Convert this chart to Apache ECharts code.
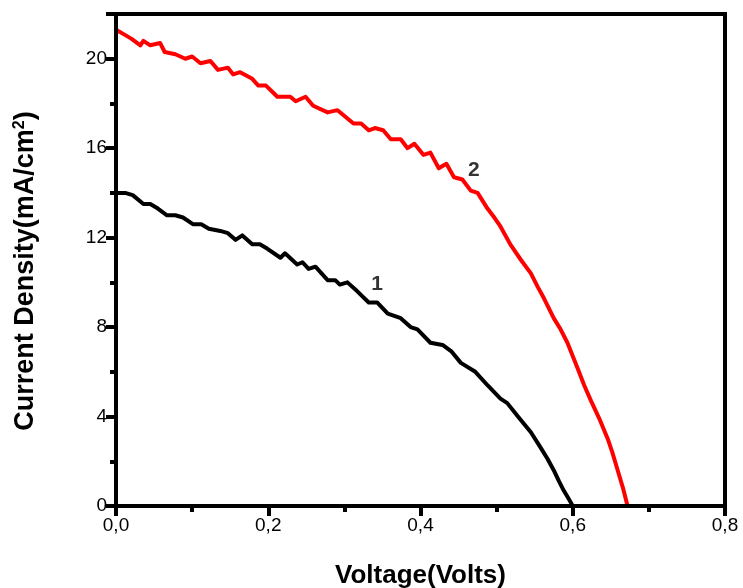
<!DOCTYPE html>
<html>
<head>
<meta charset="utf-8">
<script src="https://cdn.jsdelivr.net/npm/echarts@6/dist/echarts.min.js"></script>
<style>
html,body{margin:0;padding:0;background:#fff;}
#chart{width:743px;height:588px;}
</style>
</head>
<body>
<div id="chart"></div>
<script>
// Curve 1 (black): [voltage, current density]
var curve1 = [
  [0,14.0],[0.012,14.0],[0.022,13.9],[0.036,13.5],[0.045,13.5],[0.055,13.3],[0.067,13.0],[0.078,13.0],
  [0.088,12.9],[0.101,12.6],[0.112,12.6],[0.122,12.4],[0.137,12.3],[0.147,12.2],[0.157,11.9],[0.166,12.1],
  [0.179,11.7],[0.189,11.7],[0.199,11.5],[0.216,11.1],[0.222,11.3],[0.238,10.8],[0.245,10.9],[0.253,10.6],
  [0.262,10.7],[0.278,10.1],[0.288,10.1],[0.294,9.9],[0.304,10.0],[0.317,9.6],[0.332,9.1],[0.343,9.1],
  [0.357,8.6],[0.374,8.4],[0.387,8.0],[0.396,7.9],[0.413,7.3],[0.429,7.2],[0.441,6.9],[0.453,6.4],[0.472,6.0],
  [0.488,5.4],[0.505,4.8],[0.514,4.6],[0.528,4.0],[0.545,3.3],[0.558,2.6],[0.567,2.1],[0.575,1.6],[0.582,1.1],
  [0.588,0.7],[0.595,0.3],[0.6,0.0]
];
// Curve 2 (red)
var curve2 = [
  [0,21.3],[0.01,21.1],[0.02,20.9],[0.032,20.6],[0.036,20.8],[0.045,20.6],[0.058,20.7],[0.064,20.3],
  [0.078,20.2],[0.091,20.0],[0.1,20.1],[0.111,19.8],[0.124,19.9],[0.134,19.5],[0.147,19.6],[0.154,19.3],
  [0.163,19.4],[0.179,19.1],[0.187,18.8],[0.197,18.8],[0.212,18.3],[0.229,18.3],[0.236,18.1],[0.249,18.3],
  [0.259,17.9],[0.278,17.6],[0.291,17.7],[0.312,17.1],[0.322,17.1],[0.332,16.8],[0.34,16.9],[0.351,16.8],
  [0.361,16.4],[0.374,16.4],[0.383,16.0],[0.392,16.2],[0.404,15.7],[0.413,15.8],[0.424,15.1],[0.434,15.3],
  [0.444,14.7],[0.455,14.6],[0.466,14.1],[0.475,14.0],[0.488,13.3],[0.497,12.9],[0.505,12.5],[0.518,11.7],
  [0.532,11.0],[0.545,10.4],[0.554,9.8],[0.562,9.3],[0.575,8.4],[0.584,7.9],[0.593,7.3],[0.607,6.1],
  [0.615,5.4],[0.624,4.7],[0.635,3.9],[0.646,3.0],[0.652,2.4],[0.659,1.6],[0.666,0.8],[0.672,0.0]
];
var curveLabels = ['1', '2'];
var curveLabelPos = [[0.343, 9.9], [0.47, 15.0]];
var xTitle = 'Voltage(Volts)';
var yTitleMain = 'Current Density(mA/cm';

var chart = echarts.init(document.getElementById('chart'), null, {renderer: 'canvas'});
var font = 'Arial, "Liberation Sans", sans-serif';
chart.setOption({
  animation: false,
  backgroundColor: '#fff',
  grid: {left: 116, right: 18, top: 14, bottom: 82, containLabel: false, outerBoundsMode: 'none',
    show: true, borderColor: '#000', borderWidth: 4, backgroundColor: 'transparent', z: 0},
  xAxis: {
    type: 'value', min: 0, max: 0.8, interval: 0.2, z: 5,
    name: xTitle, nameLocation: 'middle', nameGap: 57,
    nameTextStyle: {fontFamily: font, fontWeight: 'bold', fontSize: 26, color: '#000'},
    axisLine: {show: true, onZero: false, lineStyle: {color: '#000', width: 4}},
    axisTick: {show: true, inside: false, length: 10, lineStyle: {color: '#000', width: 4}},
    minorTick: {show: true, splitNumber: 2, length: 6, lineStyle: {color: '#000', width: 4}},
    splitLine: {show: false},
    axisLabel: {fontFamily: font, fontSize: 19, color: '#000', margin: 10,
      formatter: function (v) { return v.toFixed(1).replace('.', ','); }}
  },
  yAxis: {
    type: 'value', min: 0, max: 22, interval: 4, z: 5,
    name: '{m|' + yTitleMain + '}{s|2}{m|)}', nameLocation: 'middle', nameGap: 76, nameRotate: 90,
    nameTextStyle: {
      padding: [0, 22, 0, 0],
      rich: {
        m: {fontFamily: font, fontWeight: 'bold', fontSize: 27, color: '#000'},
        s: {fontFamily: font, fontWeight: 'bold', fontSize: 16, color: '#000', verticalAlign: 'top', padding: [0, 0, 12, 0]}
      }
    },
    axisLine: {show: true, onZero: false, lineStyle: {color: '#000', width: 4}},
    axisTick: {show: true, inside: false, length: 10, lineStyle: {color: '#000', width: 4}},
    minorTick: {show: true, splitNumber: 2, length: 6, lineStyle: {color: '#000', width: 4}},
    splitLine: {show: false},
    axisLabel: {fontFamily: font, fontSize: 19, color: '#000', margin: 9, showMaxLabel: false}
  },
  series: [
    {type: 'line', data: curve1, showSymbol: false, symbol: 'none', smooth: false,
      lineStyle: {color: '#000', width: 4, join: 'round', cap: 'round'}, z: 3},
    {type: 'line', data: curve2, showSymbol: false, symbol: 'none', smooth: false,
      lineStyle: {color: '#ff0000', width: 4, join: 'round', cap: 'round'}, z: 3},
    {type: 'scatter', symbolSize: 1, itemStyle: {color: 'transparent'},
      data: curveLabelPos.map(function (p, i) { return {value: p, name: curveLabels[i]}; }),
      label: {show: true, position: 'inside', formatter: function (p) { return p.name; },
        fontFamily: font, fontWeight: 'bold', fontSize: 21, color: '#000'}, z: 4}
  ]
});
</script>
</body>
</html>
